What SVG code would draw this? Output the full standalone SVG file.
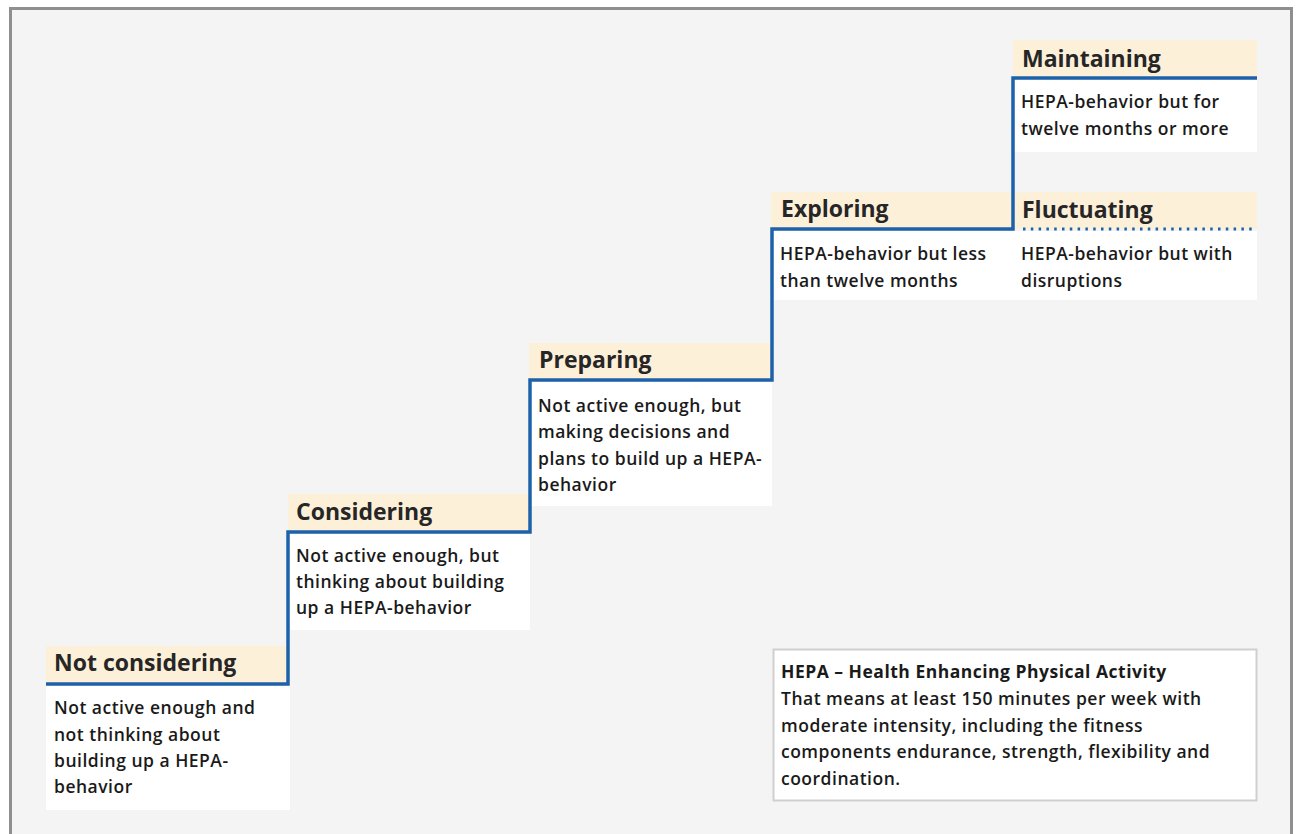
<svg xmlns="http://www.w3.org/2000/svg" width="1298" height="834" viewBox="0 0 1298 834">
<style>
.hd{fill:#fdf0d9}
.bx{fill:#ffffff}
.h{font-family:"Open Sans","Liberation Sans",sans-serif;font-weight:700;font-size:23px;fill:#262626}
.t{font-family:"Open Sans","Liberation Sans",sans-serif;font-weight:600;font-size:17.5px;fill:#1a1a1a;letter-spacing:0.5px}
.step{fill:none;stroke:#1c62ab;stroke-width:3.5;stroke-linejoin:miter}
.dot{fill:none;stroke:#1c62ab;stroke-width:3;stroke-dasharray:2.5 5.3}
</style>
<rect x="0" y="0" width="1298" height="834" fill="#ffffff"/>
<rect x="10.5" y="8.5" width="1281" height="840" fill="#f4f4f4" stroke="#8f8f8f" stroke-width="3"/>

<g id="not-considering">
<rect class="hd" x="46" y="646" width="244" height="38"/>
<rect class="bx" x="46" y="686" width="244" height="124"/>
<text class="h" x="54" y="671">Not considering</text>
<text class="t" x="54" y="714">Not active enough and</text>
<text class="t" x="54" y="741">not thinking about</text>
<text class="t" x="54" y="767">building up a HEPA-</text>
<text class="t" x="54" y="793">behavior</text>
</g>

<g id="considering">
<rect class="hd" x="288" y="494" width="242" height="38"/>
<rect class="bx" x="288" y="534" width="242" height="96"/>
<text class="h" x="296" y="520">Considering</text>
<text class="t" x="296" y="562">Not active enough, but</text>
<text class="t" x="296" y="588">thinking about building</text>
<text class="t" x="296" y="614">up a HEPA-behavior</text>
</g>

<g id="preparing">
<rect class="hd" x="529" y="343" width="243" height="37"/>
<rect class="bx" x="530" y="382" width="242" height="124"/>
<text class="h" x="539" y="368">Preparing</text>
<text class="t" x="538" y="412">Not active enough, but</text>
<text class="t" x="538" y="438">making decisions and</text>
<text class="t" x="538" y="465">plans to build up a HEPA-</text>
<text class="t" x="538" y="491">behavior</text>
</g>

<g id="exploring">
<rect class="hd" x="771" y="192" width="242" height="37"/>
<rect class="bx" x="772" y="231" width="241" height="69"/>
<text class="h" x="781" y="217">Exploring</text>
<text class="t" x="780" y="260">HEPA-behavior but less</text>
<text class="t" x="780" y="287">than twelve months</text>
</g>

<g id="fluctuating">
<rect class="hd" x="1013" y="192" width="244" height="37"/>
<rect class="bx" x="1013" y="231" width="244" height="69"/>
<text class="h" x="1022" y="218">Fluctuating</text>
<text class="t" x="1021" y="260">HEPA-behavior but with</text>
<text class="t" x="1021" y="287">disruptions</text>
</g>

<g id="maintaining">
<rect class="hd" x="1013" y="40" width="244" height="37"/>
<rect class="bx" x="1013" y="80" width="244" height="72"/>
<text class="h" x="1022" y="67">Maintaining</text>
<text class="t" x="1021" y="108">HEPA-behavior but for</text>
<text class="t" x="1021" y="135">twelve months or more</text>
</g>

<g id="hepa-note">
<rect x="773.5" y="649.5" width="483" height="151" fill="#ffffff" stroke="#cfcfcf" stroke-width="2"/>
<text class="t" x="781" y="678" style="font-weight:700">HEPA – Health Enhancing Physical Activity</text>
<text class="t" x="781" y="705">That means at least 150 minutes per week with</text>
<text class="t" x="781" y="732">moderate intensity, including the fitness</text>
<text class="t" x="781" y="758">components endurance, strength, flexibility and</text>
<text class="t" x="781" y="785">coordination.</text>
</g>

<g id="connectors">
<path class="step" d="M46,684 H288 V532 H530 V380 H772 V229 H1013 V78 H1257"/>
<path class="dot" d="M1023,229 H1257"/>
</g>
</svg>
